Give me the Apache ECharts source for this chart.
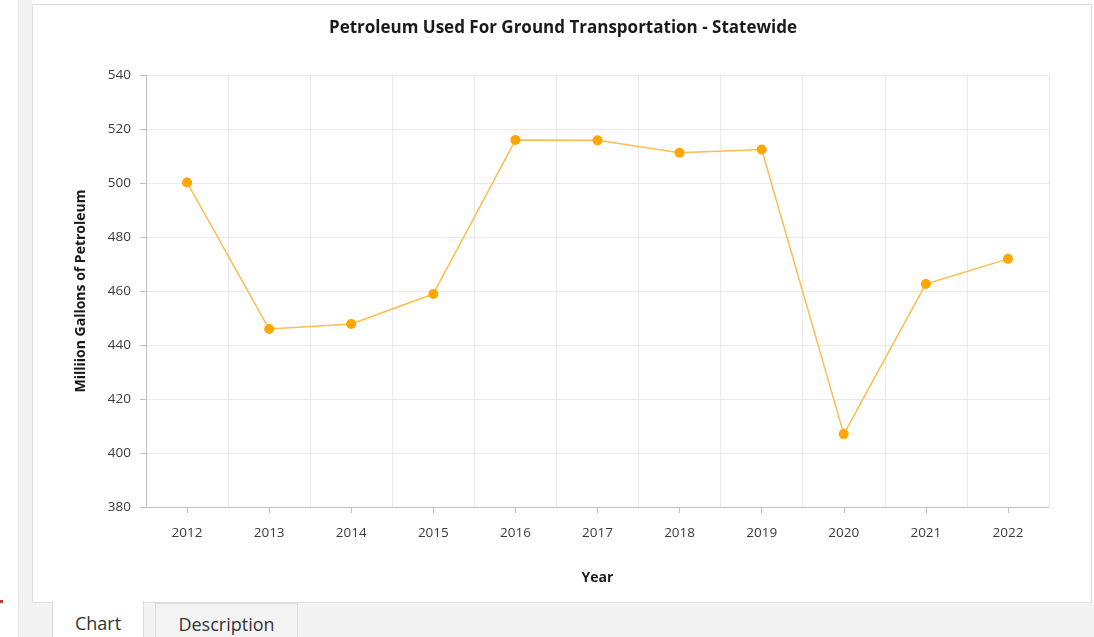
<!DOCTYPE html>
<html>
<head>
<meta charset="utf-8">
<script src="https://cdn.jsdelivr.net/npm/echarts@6/dist/echarts.min.js"></script>
<style>
  html, body { margin:0; padding:0; width:1094px; height:637px; overflow:hidden; background:#ffffff; font-family: "Open Sans", Lato, sans-serif; }
  #leftline { position:absolute; left:18px; top:0; width:1px; height:637px; background:#e4e4e4; }
  #strip { position:absolute; left:19px; top:0; width:13px; height:637px; background:#f3f3f3; }
  #panel { position:absolute; left:32px; top:4px; width:1058px; height:597px; background:#ffffff; border:1px solid #dedede; }
  #below { position:absolute; left:32px; top:603px; width:1062px; height:34px; background:#f3f3f3; }
  .tab { position:absolute; top:603px; height:34px; box-sizing:border-box; border:1px solid #dcdcdc; border-bottom:none; font-size:18px; color:#333; text-align:center; line-height:40px; }
  #tab1 { left:52px; width:92px; background:#ffffff; top:601px; height:36px; border-top:none; line-height:44px; }
  #tab2 { left:155px; width:143px; background:#f4f4f4; }
  #reddot { position:absolute; left:0; top:600px; width:3px; height:3px; background:#c0392b; }
  #chart { position:absolute; left:0; top:0; width:1094px; height:637px; }
</style>
</head>
<body>
<div id="leftline"></div>
<div id="strip"></div>
<div id="panel"></div>
<div id="below"></div>
<div id="tab1" class="tab">Chart</div>
<div id="tab2" class="tab">Description</div>
<div id="reddot"></div>
<div id="chart"></div>
<script>
const years = ['2012','2013','2014','2015','2016','2017','2018','2019','2020','2021','2022'];
const petroleum = [500.2, 445.9, 447.8, 458.9, 515.9, 515.8, 511.2, 512.4, 407.0, 462.6, 471.9];
const titleText = 'Petroleum Used For Ground Transportation - Statewide';
const yName = 'Milliion Gallons of Petroleum';
const xName = 'Year';

const chart = echarts.init(document.getElementById('chart'), null, { renderer: 'canvas' });
chart.setOption({
  backgroundColor: 'transparent',
  animation: false,
  title: {
    text: titleText,
    left: 558, top: 15, textAlign: 'center',
    textStyle: { fontFamily: 'Open Sans', fontWeight: 'bold', fontSize: 17, color: '#1a1a1a' }
  },
  grid: { left: 146, right: 45, top: 75, bottom: 130, containLabel: false },
  xAxis: {
    type: 'category',
    data: years,
    boundaryGap: true,
    name: xName,
    nameLocation: 'middle',
    nameGap: 64,
    nameTextStyle: { fontFamily: 'Open Sans', fontWeight: 'bold', fontSize: 14, color: '#1a1a1a' },
    axisLine: { show: true, lineStyle: { color: '#bfbfbf', width: 1 } },
    axisTick: { show: true, alignWithLabel: true, length: 6, lineStyle: { color: '#bfbfbf' } },
    axisLabel: { margin: 19, fontFamily: 'Open Sans', fontSize: 13.5, color: '#3a3a3a' },
    splitLine: { show: true, lineStyle: { color: '#e9e9e9', width: 1 } }
  },
  yAxis: {
    type: 'value',
    min: 380, max: 540, interval: 20,
    name: yName,
    nameLocation: 'middle',
    nameGap: 58,
    nameRotate: 90,
    nameTextStyle: { fontFamily: 'Open Sans', fontWeight: 'bold', fontSize: 14, color: '#1a1a1a' },
    axisLine: { show: true, lineStyle: { color: '#bfbfbf', width: 1 } },
    axisTick: { show: true, length: 6, lineStyle: { color: '#bfbfbf' } },
    axisLabel: { margin: 15, fontFamily: 'Open Sans', fontSize: 13.5, color: '#3a3a3a' },
    splitLine: { show: true, lineStyle: { color: '#e9e9e9', width: 1 } }
  },
  series: [{
    type: 'line',
    data: petroleum,
    symbol: 'circle',
    symbolSize: 10,
    showAllSymbol: true,
    lineStyle: { color: '#ffbc4f', width: 1.5 },
    itemStyle: { color: '#ffa600', borderWidth: 0 }
  }]
});
</script>
</body>
</html>
